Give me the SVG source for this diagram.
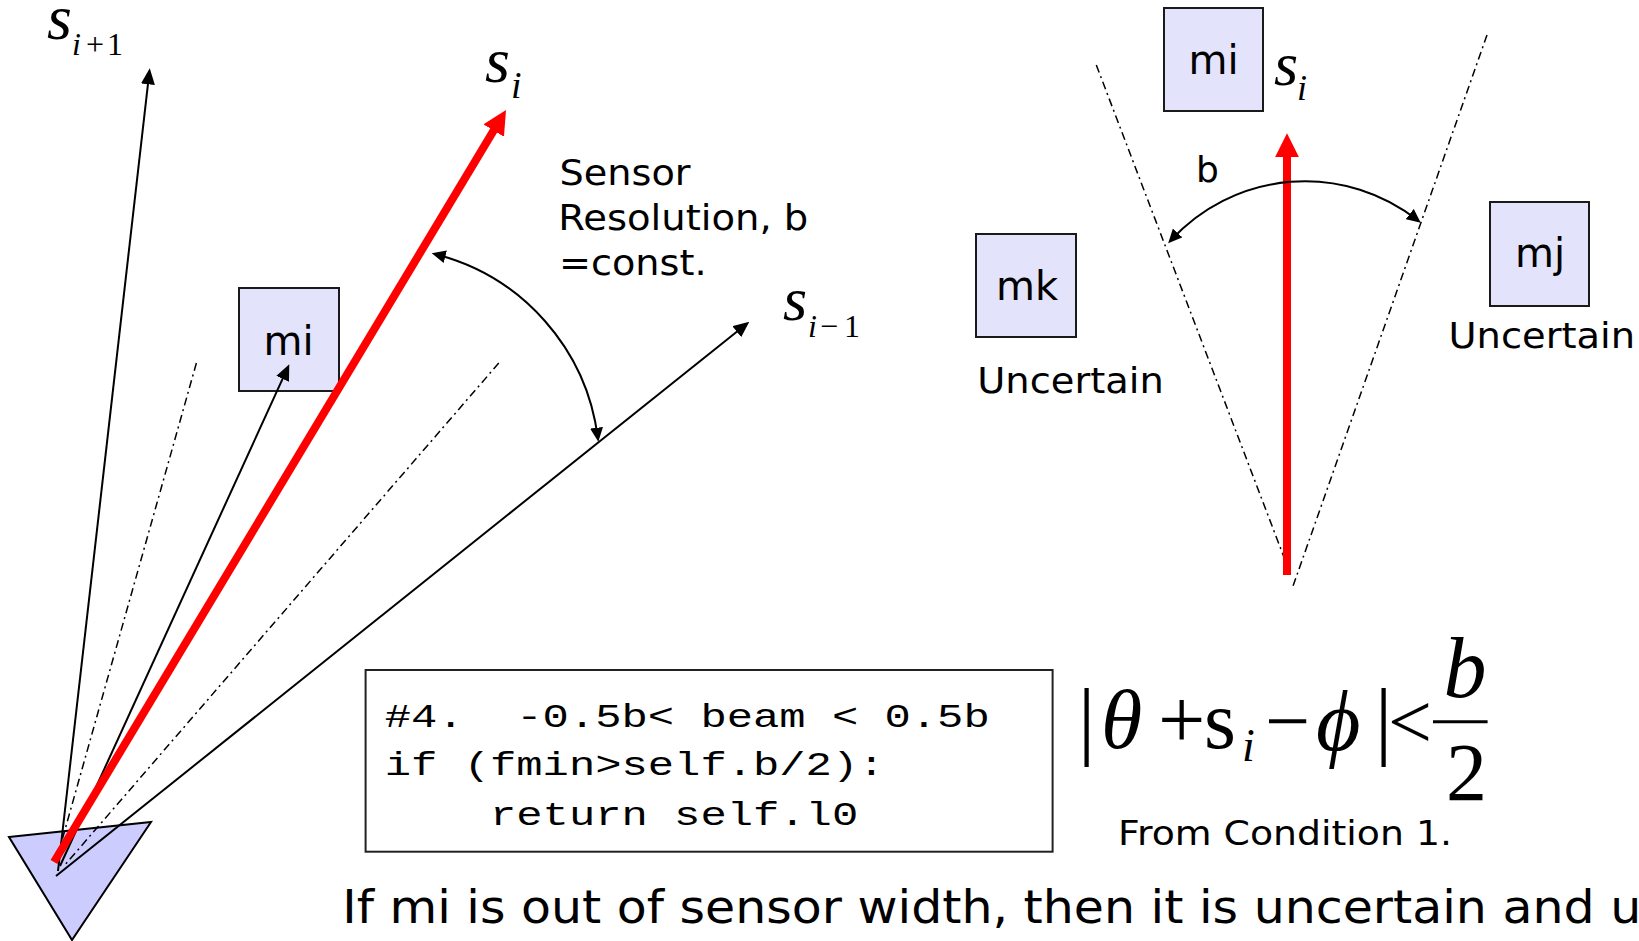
<svg xmlns="http://www.w3.org/2000/svg" width="1639" height="941" viewBox="0 0 1639 941">
<style>
.lbl{font-family:"DejaVu Sans",Verdana,sans-serif;fill:#000}
.m{font-family:"Liberation Serif","Times New Roman","DejaVu Serif",serif;fill:#000}
.it{font-style:italic}
.code{font-family:"Liberation Mono","Courier New",monospace;fill:#000;font-size:33px}
.box{fill:#E3E3FB;stroke:#1a1a1a;stroke-width:2}
.ln{stroke:#000;stroke-width:2;fill:none}
.dd{stroke:#000;stroke-width:1.5;stroke-dasharray:8 4 2 4;fill:none}
.red{stroke:#FF0000;stroke-width:8;fill:none}
</style>
<defs>
<marker id="ah" viewBox="0 0 16 14" markerUnits="userSpaceOnUse" markerWidth="16" markerHeight="14" refX="12" refY="7" orient="auto-start-reverse"><path d="M0,0 L16,7 L0,14 z" fill="#000"/></marker>
<marker id="ahs" viewBox="0 0 14 13" markerUnits="userSpaceOnUse" markerWidth="14" markerHeight="13" refX="10" refY="6.5" orient="auto-start-reverse"><path d="M0,0 L14,6.5 L0,13 z" fill="#000"/></marker>
<marker id="rah" viewBox="0 0 24 24" markerUnits="userSpaceOnUse" markerWidth="24" markerHeight="24" refX="4" refY="12" orient="auto"><path d="M0,0 L24,12 L0,24 z" fill="#FF0000"/></marker>
</defs>
<rect width="1639" height="941" fill="#fff"/>

<g id="sensor">
<polygon points="9,837 151,822 72,940" fill="#CCCCFF" stroke="#000" stroke-width="2"/>
</g>

<g id="mi-left">
<rect class="box" x="239" y="288" width="100" height="103"/>
<text class="lbl" x="288.5" y="355" font-size="40" text-anchor="middle">mi</text>
</g>

<g id="connectors">
<line class="dd" x1="196.4" y1="363" x2="57" y2="858"/>
<line class="dd" x1="498.8" y1="363" x2="64" y2="866"/>
<line class="ln" x1="58" y1="871" x2="149.3" y2="72.3" marker-end="url(#ah)"/>
<line class="ln" x1="60" y1="866" x2="287.6" y2="367.9" marker-end="url(#ah)"/>
<line class="ln" x1="56" y1="876" x2="746.2" y2="324.2" marker-end="url(#ah)"/>
<line class="red" x1="54" y1="862" x2="495.7" y2="127.1" marker-end="url(#rah)"/>
<path class="ln" d="M435.6,254.2 A218,218 0 0,1 597.8,437.7" marker-start="url(#ahs)" marker-end="url(#ahs)"/>
<line class="dd" x1="1096.3" y1="65" x2="1290" y2="573"/>
<line class="dd" x1="1487" y1="35" x2="1292.7" y2="587"/>
<line class="red" x1="1287" y1="575" x2="1287" y2="153.3" marker-end="url(#rah)"/>
<path class="ln" d="M1170.9,240.3 A182,182 0 0,1 1417.6,220.2" marker-start="url(#ahs)" marker-end="url(#ahs)"/>
</g>

<g id="label-s-i-plus-1" class="m">
<text class="it" x="47" y="39" font-size="64">s</text>
<text class="it" x="72" y="55" font-size="32">i</text>
<text x="86" y="55" font-size="32">+</text>
<text x="107" y="55" font-size="32">1</text>
</g>
<g id="label-s-i-left" class="m">
<text class="it" x="485" y="82" font-size="64">s</text>
<text class="it" x="511" y="98" font-size="38">i</text>
</g>
<g id="label-s-i-minus-1" class="m">
<text class="it" x="783" y="320" font-size="62">s</text>
<text class="it" x="808" y="336.7" font-size="32">i</text>
<text x="820" y="336.7" font-size="32">−</text>
<text x="844" y="336.7" font-size="32">1</text>
</g>

<g id="resolution-label" class="lbl" font-size="36">
<text x="559.5" y="185" textLength="131" lengthAdjust="spacingAndGlyphs">Sensor</text>
<text x="558.3" y="230" textLength="250" lengthAdjust="spacingAndGlyphs">Resolution, b</text>
<text x="559" y="275" textLength="147.6" lengthAdjust="spacingAndGlyphs">=const.</text>
</g>

<g id="mi-right">
<rect class="box" x="1164" y="8" width="99" height="103"/>
<text class="lbl" x="1213.5" y="74" font-size="40" text-anchor="middle">mi</text>
</g>
<g id="label-s-i-right" class="m">
<text class="it" x="1274" y="85" font-size="62">s</text>
<text class="it" x="1297" y="100" font-size="36">i</text>
</g>
<g id="label-b">
<text class="lbl" x="1196" y="181.7" font-size="36">b</text>
</g>

<g id="mk">
<rect class="box" x="976" y="234" width="100" height="103"/>
<text class="lbl" x="1027" y="300" font-size="40" text-anchor="middle">mk</text>
<text class="lbl" x="977.2" y="393.3" font-size="36" textLength="186.6" lengthAdjust="spacingAndGlyphs">Uncertain</text>
</g>
<g id="mj">
<rect class="box" x="1490" y="202" width="99" height="104"/>
<text class="lbl" x="1540" y="266.7" font-size="40" text-anchor="middle">mj</text>
<text class="lbl" x="1448.5" y="348.3" font-size="36" textLength="186.6" lengthAdjust="spacingAndGlyphs">Uncertain</text>
</g>

<g id="code-box">
<rect x="365.6" y="670" width="687" height="181.7" fill="#fff" stroke="#222" stroke-width="2"/>
<text class="code" x="384.8" y="726.7" textLength="78.9" lengthAdjust="spacingAndGlyphs">#4.</text>
<text class="code" x="516.3" y="726.7" textLength="473.4" lengthAdjust="spacingAndGlyphs">-0.5b&lt; beam &lt; 0.5b</text>
<text class="code" x="384.8" y="775" textLength="499.7" lengthAdjust="spacingAndGlyphs">if (fmin&gt;self.b/2):</text>
<text class="code" x="490" y="825" textLength="368.2" lengthAdjust="spacingAndGlyphs">return self.l0</text>
</g>

<g id="formula" class="m" font-size="86">
<text x="1078" y="748">|</text>
<text class="it" x="1101" y="748" font-size="84">θ</text>
<text x="1158" y="748" font-size="84">+</text>
<text x="1204" y="748" font-size="82">s</text>
<text class="it" x="1242" y="761" font-size="46">i</text>
<text x="1265" y="748" font-size="80">−</text>
<text class="it" x="1316" y="750">ϕ</text>
<text x="1375" y="748">|</text>
<text x="1388" y="748" font-size="78">&lt;</text>
<line x1="1433" y1="721.7" x2="1487.6" y2="721.7" stroke="#000" stroke-width="3"/>
<text class="it" x="1465" y="696.7" text-anchor="middle">b</text>
<text x="1466.5" y="800" font-size="82" text-anchor="middle">2</text>
</g>
<g id="condition-note">
<text class="lbl" x="1118" y="845" font-size="34" textLength="334" lengthAdjust="spacingAndGlyphs">From Condition 1.</text>
</g>

<g id="footer">
<text class="lbl" x="342.2" y="922.7" font-size="47" textLength="1299" lengthAdjust="spacingAndGlyphs">If mi is out of sensor width, then it is uncertain and u</text>
</g>
</svg>
